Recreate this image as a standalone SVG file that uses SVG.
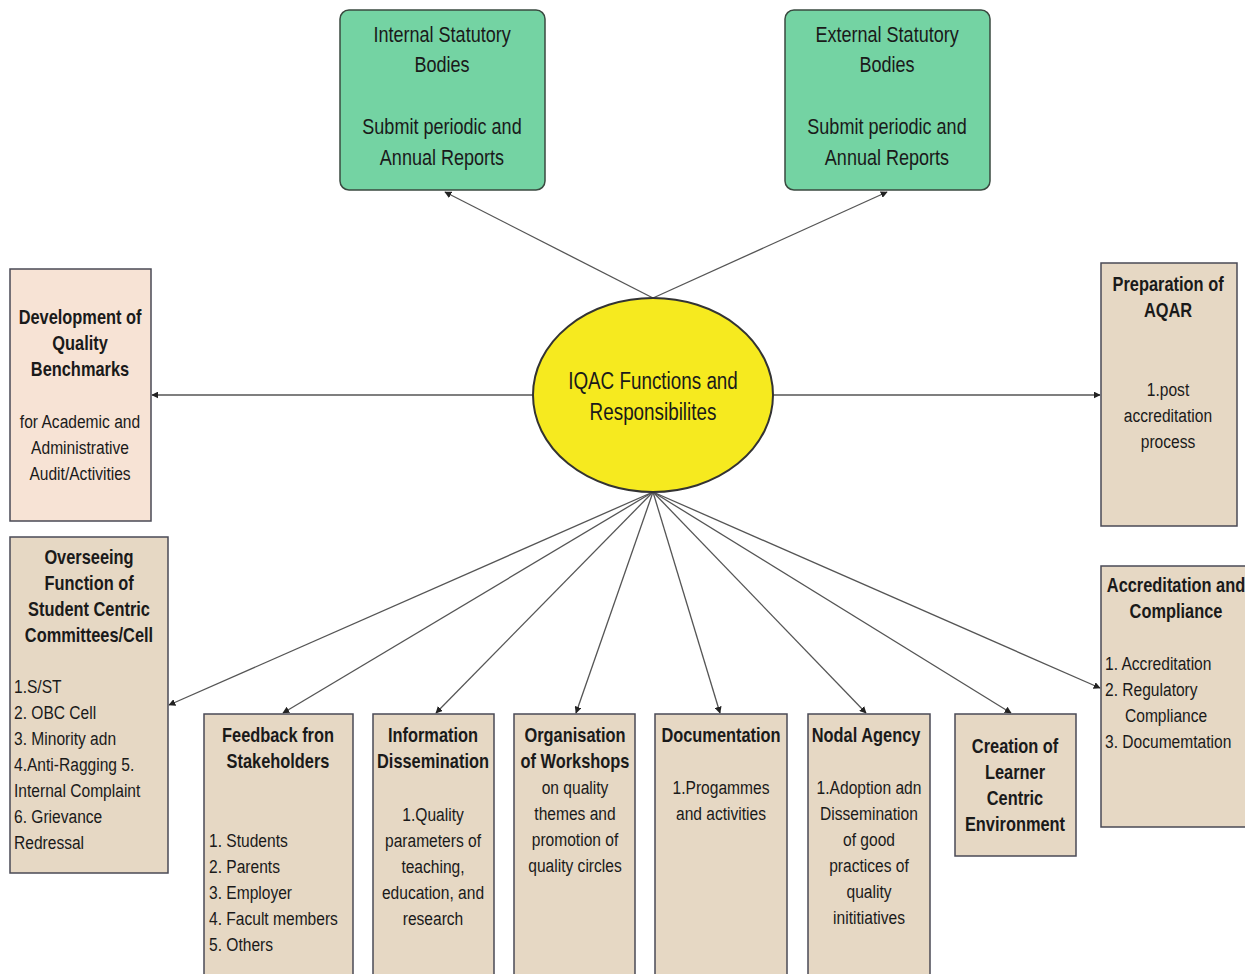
<svg xmlns="http://www.w3.org/2000/svg" width="1245" height="974" viewBox="0 0 1245 974">
<defs>
<marker id="ah" viewBox="0 0 10 10" refX="9" refY="5" markerWidth="7" markerHeight="7" orient="auto" markerUnits="userSpaceOnUse">
<path d="M0,0 L10,5 L0,10 z" fill="#222"/>
</marker>
</defs>
<style>
text{font-family:"Liberation Sans",Arial,sans-serif;fill:#1a1a1a;transform-box:fill-box;transform:scaleX(0.82);}
.g{fill:#74d3a3;stroke:#3a4a40;stroke-width:1.5;}
.b{fill:#e6d8c4;stroke:#4a4a55;stroke-width:1.5;}
.p{fill:#f7e3d5;stroke:#4a4a55;stroke-width:1.5;}
.t{font-size:22px;text-anchor:middle;transform-origin:center;}
.e{font-size:23px;text-anchor:middle;transform-origin:center;}
.h{font-size:20px;font-weight:bold;text-anchor:middle;transform-origin:center;}
.n{font-size:19px;text-anchor:middle;transform-origin:center;}
.l{font-size:19px;transform-origin:left center;}
.c line{stroke:#555;stroke-width:1.3;marker-end:url(#ah);}
</style>
<rect width="1245" height="974" fill="#fff"/>
<g class="c" id="connectors">
<line x1="653" y1="298" x2="445" y2="192"/>
<line x1="653" y1="298" x2="887" y2="192"/>
<line x1="533" y1="395" x2="152" y2="395"/>
<line x1="773" y1="395" x2="1100" y2="395"/>
<line x1="653" y1="492" x2="169" y2="705"/>
<line x1="653" y1="492" x2="283" y2="713"/>
<line x1="653" y1="492" x2="436" y2="713"/>
<line x1="653" y1="492" x2="576" y2="713"/>
<line x1="653" y1="492" x2="720" y2="713"/>
<line x1="653" y1="492" x2="866" y2="713"/>
<line x1="653" y1="492" x2="1011" y2="713"/>
<line x1="653" y1="492" x2="1100" y2="688"/>
</g>
<g id="center">
<ellipse cx="653" cy="395" rx="120" ry="97" fill="#f6ea1f" stroke="#333" stroke-width="2"/>
<text class="e" x="653" y="389">IQAC Functions and</text>
<text class="e" x="653" y="420">Responsibilites</text>
</g>
<g id="internal">
<rect class="g" x="340" y="10" width="205" height="180" rx="9"/>
<text class="t" x="442" y="42">Internal Statutory</text>
<text class="t" x="442" y="72">Bodies</text>
<text class="t" x="442" y="134">Submit periodic and</text>
<text class="t" x="442" y="165">Annual Reports</text>
</g>
<g id="external">
<rect class="g" x="785" y="10" width="205" height="180" rx="9"/>
<text class="t" x="887" y="42">External Statutory</text>
<text class="t" x="887" y="72">Bodies</text>
<text class="t" x="887" y="134">Submit periodic and</text>
<text class="t" x="887" y="165">Annual Reports</text>
</g>
<g id="development">
<rect class="p" x="10" y="269" width="141" height="252"/>
<text class="h" x="80" y="324">Development of</text>
<text class="h" x="80" y="350">Quality</text>
<text class="h" x="80" y="376">Benchmarks</text>
<text class="n" x="80" y="428">for Academic and</text>
<text class="n" x="80" y="454">Administrative</text>
<text class="n" x="80" y="480">Audit/Activities</text>
</g>
<g id="preparation">
<rect class="b" x="1101" y="263" width="136" height="263"/>
<text class="h" x="1168" y="291">Preparation of</text>
<text class="h" x="1168" y="317">AQAR</text>
<text class="n" x="1168" y="396">1.post</text>
<text class="n" x="1168" y="422">accreditation</text>
<text class="n" x="1168" y="448">process</text>
</g>
<g id="overseeing">
<rect class="b" x="10" y="537" width="158" height="336"/>
<text class="h" x="89" y="564">Overseeing</text>
<text class="h" x="89" y="590">Function of</text>
<text class="h" x="89" y="616">Student Centric</text>
<text class="h" x="89" y="642">Committees/Cell</text>
<text class="l" x="14" y="693">1.S/ST</text>
<text class="l" x="14" y="719">2. OBC Cell</text>
<text class="l" x="14" y="745">3. Minority adn</text>
<text class="l" x="14" y="771">4.Anti-Ragging 5.</text>
<text class="l" x="14" y="797">Internal Complaint</text>
<text class="l" x="14" y="823">6. Grievance</text>
<text class="l" x="14" y="849">Redressal</text>
</g>
<g id="feedback">
<rect class="b" x="204" y="714" width="149" height="270"/>
<text class="h" x="278" y="742">Feedback fron</text>
<text class="h" x="278" y="768">Stakeholders</text>
<text class="l" x="209" y="847">1. Students</text>
<text class="l" x="209" y="873">2. Parents</text>
<text class="l" x="209" y="899">3. Employer</text>
<text class="l" x="209" y="925">4. Facult members</text>
<text class="l" x="209" y="951">5. Others</text>
</g>
<g id="information">
<rect class="b" x="373" y="714" width="121" height="270"/>
<text class="h" x="433" y="742">Information</text>
<text class="h" x="433" y="768">Dissemination</text>
<text class="n" x="433" y="821">1.Quality</text>
<text class="n" x="433" y="847">parameters of</text>
<text class="n" x="433" y="873">teaching,</text>
<text class="n" x="433" y="899">education, and</text>
<text class="n" x="433" y="925">research</text>
</g>
<g id="organisation">
<rect class="b" x="514" y="714" width="121" height="270"/>
<text class="h" x="575" y="742">Organisation</text>
<text class="h" x="575" y="768">of Workshops</text>
<text class="n" x="575" y="794">on quality</text>
<text class="n" x="575" y="820">themes and</text>
<text class="n" x="575" y="846">promotion of</text>
<text class="n" x="575" y="872">quality circles</text>
</g>
<g id="documentation">
<rect class="b" x="655" y="714" width="132" height="270"/>
<text class="h" x="721" y="742">Documentation</text>
<text class="n" x="721" y="794">1.Progammes</text>
<text class="n" x="721" y="820">and activities</text>
</g>
<g id="nodal">
<rect class="b" x="808" y="714" width="122" height="270"/>
<text class="h" x="866" y="742">Nodal Agency</text>
<text class="n" x="869" y="794">1.Adoption adn</text>
<text class="n" x="869" y="820">Dissemination</text>
<text class="n" x="869" y="846">of good</text>
<text class="n" x="869" y="872">practices of</text>
<text class="n" x="869" y="898">quality</text>
<text class="n" x="869" y="924">inititiatives</text>
</g>
<g id="creation">
<rect class="b" x="955" y="714" width="121" height="142"/>
<text class="h" x="1015" y="753">Creation of</text>
<text class="h" x="1015" y="779">Learner</text>
<text class="h" x="1015" y="805">Centric</text>
<text class="h" x="1015" y="831">Environment</text>
</g>
<g id="accreditation">
<rect class="b" x="1101" y="566" width="150" height="261"/>
<text class="h" x="1176" y="592">Accreditation and</text>
<text class="h" x="1176" y="618">Compliance</text>
<text class="l" x="1105" y="670">1. Accreditation</text>
<text class="l" x="1105" y="696">2. Regulatory</text>
<text class="l" x="1125" y="722">Compliance</text>
<text class="l" x="1105" y="748">3. Documemtation</text>
</g>
</svg>
